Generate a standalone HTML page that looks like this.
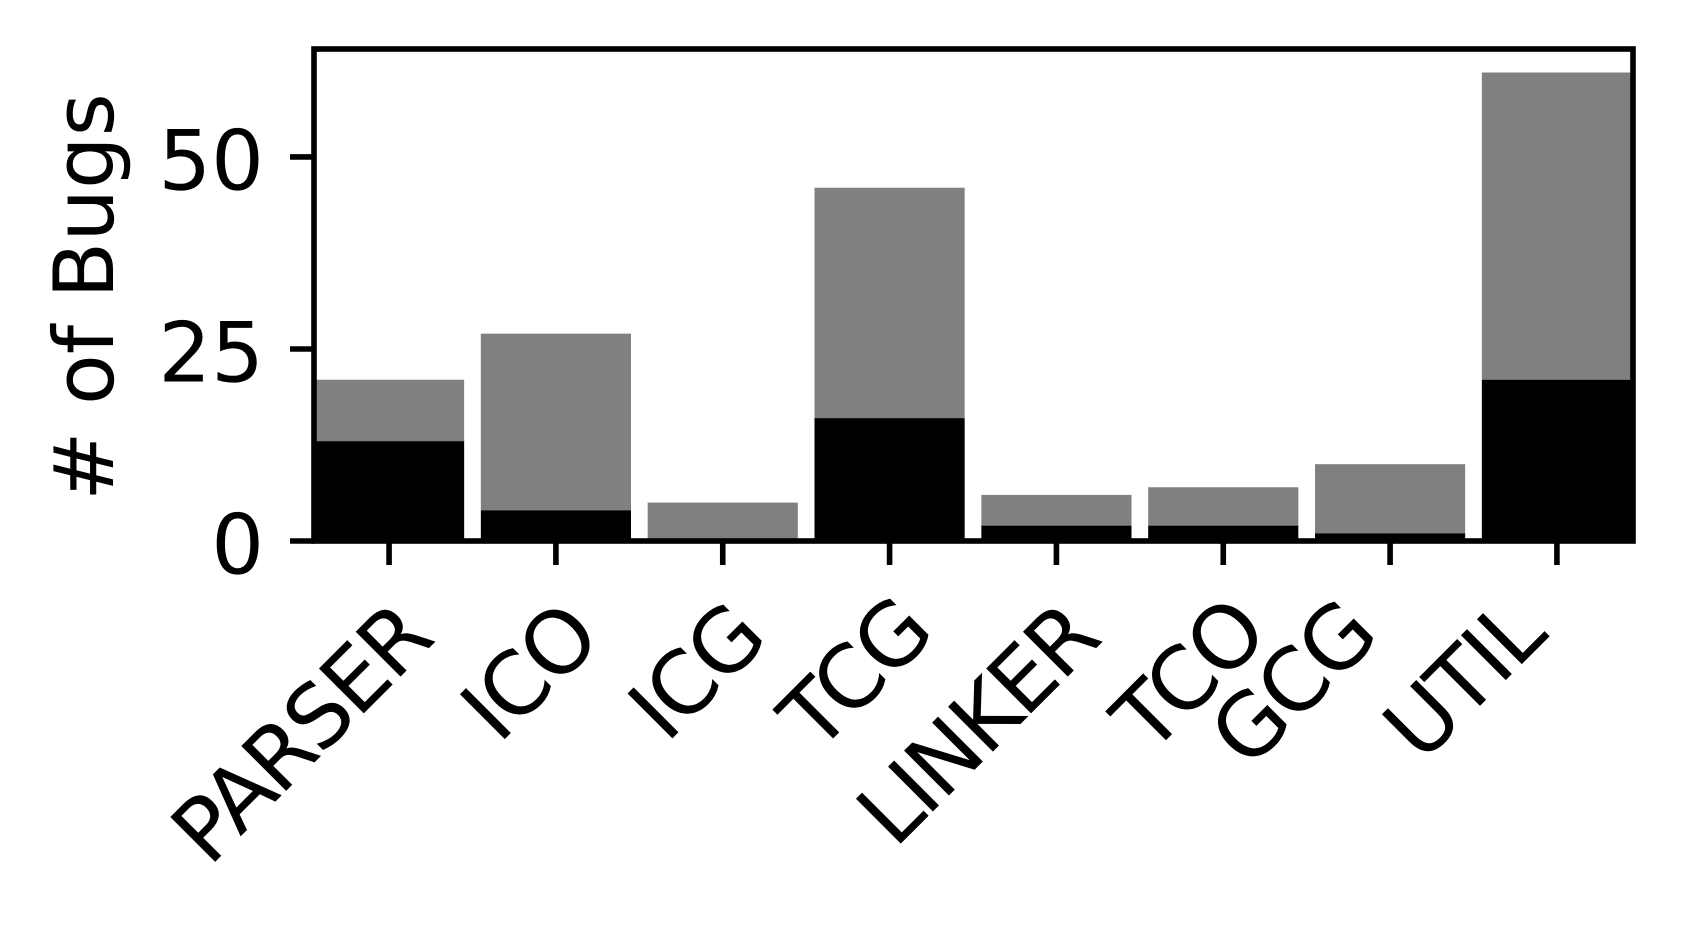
<!DOCTYPE html>
<html lang="en">
<head>
<meta charset="utf-8">
<title>Bugs per component</title>
<style>
  html, body { margin: 0; padding: 0; background: #fff; }
  svg { display: block; }
  text { font-family: "DejaVu Sans", "Liberation Sans", sans-serif; fill: #000; text-rendering: geometricPrecision; }
</style>
</head>
<body>
<svg id="chart" xmlns="http://www.w3.org/2000/svg" width="1682" height="925" viewBox="0 0 1682 925">
  <rect x="0" y="0" width="1682" height="925" fill="#ffffff"/>
  <g id="bars"></g>
  <g id="yaxis"></g>
  <g id="xaxis"></g>
  <rect x="314" y="49" width="1319" height="492" fill="none" stroke="#000" stroke-width="5.6"/>
  <text transform="translate(113 297) rotate(-90)" text-anchor="middle" font-size="83">#  of Bugs</text>
</svg>
<script>
const categories = ["PARSER", "ICO", "ICG", "TCG", "LINKER", "TCO", "GCG", "UTIL"];
const blackValues = [13, 4, 0, 16, 2, 2, 1, 21];
const totalValues = [21, 27, 5, 46, 6, 7, 10, 61];
const yTicks = [0, 25, 50];

const SVG_NS = "http://www.w3.org/2000/svg";
const plot = { left: 314, right: 1632, top: 49, bottom: 541 };
const xDomain = [-0.45, categories.length - 0.55];
const yDomain = [0, 64.06];
const barWidthUnits = 0.9;
const fontPx = 83;
const xLabelFontPx = 87;

function xScale(v) {
  return plot.left + (v - xDomain[0]) / (xDomain[1] - xDomain[0]) * (plot.right - plot.left);
}
function yScale(v) {
  return plot.bottom - (v - yDomain[0]) / (yDomain[1] - yDomain[0]) * (plot.bottom - plot.top);
}
function make(tag, attrs, parent) {
  const el = document.createElementNS(SVG_NS, tag);
  for (const k in attrs) el.setAttribute(k, attrs[k]);
  parent.appendChild(el);
  return el;
}
function labelOffset(name) {
  if (name === "GCG") return [-10, 639];
  if (name === "UTIL") return [-9, 638];
  if (name === "TCG") return [46, 636];
  if (name === "TCO") return [46, 637];
  return [46, 642];
}

const barsG = document.getElementById("bars");
const yG = document.getElementById("yaxis");
const xG = document.getElementById("xaxis");

categories.forEach(function (name, i) {
  const slug = name.toLowerCase();
  const left = xScale(i - barWidthUnits / 2);
  const w = xScale(i + barWidthUnits / 2) - left;

  const gray = make("rect", { x: left, y: yScale(totalValues[i]), width: w, height: yScale(blackValues[i]) - yScale(totalValues[i]), fill: "#808080" }, barsG);
  
  

  const black = make("rect", { x: left, y: yScale(blackValues[i]), width: w, height: yScale(0) - yScale(blackValues[i]), fill: "#000000" }, barsG);
  
  

  const tick = make("line", { x1: xScale(i), x2: xScale(i), y1: 541, y2: 565, stroke: "#000", "stroke-width": 5.6 }, xG);
  
  

  const off = labelOffset(name);
  const ax = xScale(i) + off[0];
  const ay = off[1];
  const label = make("text", { x: 0, y: 0, "text-anchor": "end", "font-size": xLabelFontPx, "letter-spacing": "-3", transform: "translate(" + ax + " " + ay + ") rotate(-45)" }, xG);
  label.textContent = name;
  
  
});

yTicks.forEach(function (v) {
  const y = yScale(v);
  const tick = make("line", { x1: 290, x2: 314, y1: y, y2: y, stroke: "#000", "stroke-width": 5.6 }, yG);
  
  

  const label = make("text", { x: 264, y: y + 32.5, "text-anchor": "end", "font-size": fontPx }, yG);
  label.textContent = String(v);
  
  
});
</script>
</body>
</html>
